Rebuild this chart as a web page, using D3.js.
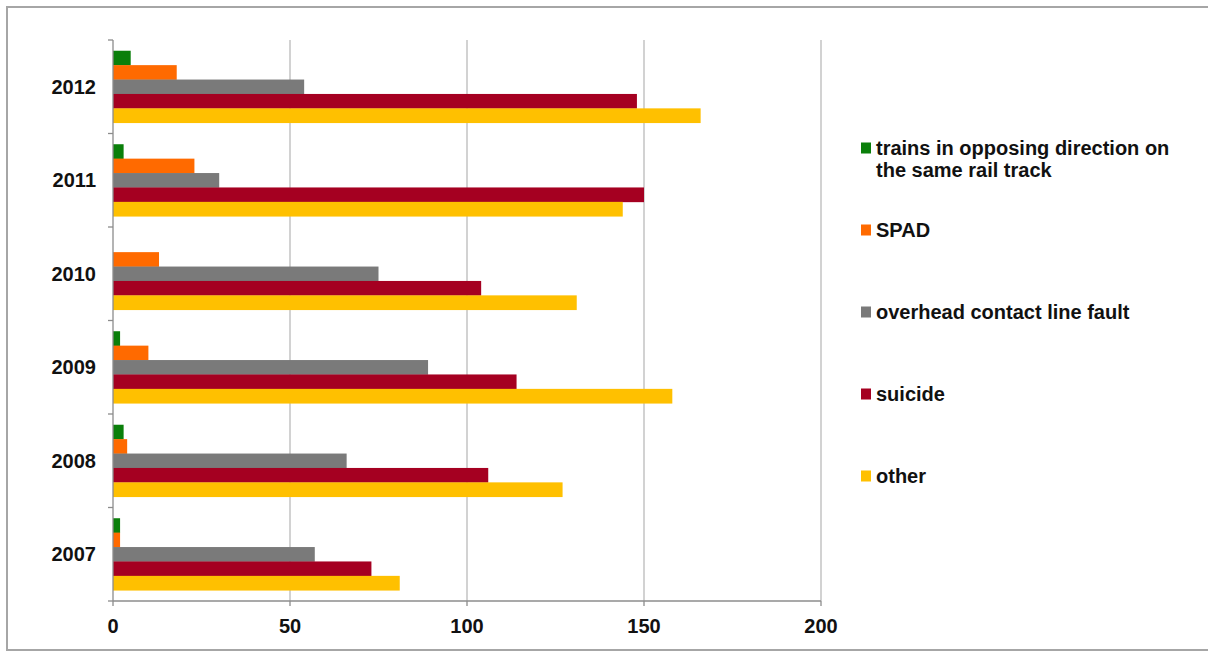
<!DOCTYPE html>
<html>
<head>
<meta charset="utf-8">
<script src="https://cdn.jsdelivr.net/npm/d3@7"></script>
<style>
  html, body { margin: 0; padding: 0; background: #fff; }
  svg { display: block; font-family: "Liberation Sans", Arial, sans-serif; }
</style>
</head>
<body>
<svg id="chart" width="1208" height="653"></svg>
<script>
// ---- data ----
const years = ["2012", "2011", "2010", "2009", "2008", "2007"];
const seriesNames = ["trains in opposing direction on the same rail track", "SPAD", "overhead contact line fault", "suicide", "other"];
const legendLines = [["trains in opposing direction on", "the same rail track"], ["SPAD"], ["overhead contact line fault"], ["suicide"], ["other"]];
const trains   = [5, 3, 0, 2, 3, 2];
const spad     = [18, 23, 13, 10, 4, 2];
const overhead = [54, 30, 75, 89, 66, 57];
const suicide  = [148, 150, 104, 114, 106, 73];
const other    = [166, 144, 131, 158, 127, 81];
const xTicks = [0, 50, 100, 150, 200];
const colors = ["#0a7f0a", "#ff6a00", "#7a7a7a", "#a50021", "#ffc000"];

const seriesValues = [trains, spad, overhead, suicide, other];

const svg = d3.select("#chart");

// frame
svg.append("rect")
  .attr("x", 7).attr("y", 7).attr("width", 1230).attr("height", 643)
  .attr("fill", "#fff").attr("stroke", "#a6a6a6").attr("stroke-width", 2);

const x = d3.scaleLinear().domain([0, 200]).range([113, 821]);
const y0 = d3.scaleBand().domain(years).range([40, 601]).padding(0);
const y1 = d3.scaleBand().domain(d3.range(seriesNames.length)).range([0, y0.bandwidth()])
  .paddingInner(0).paddingOuter(0.745);

// gridlines
svg.append("g").selectAll("line")
  .data(xTicks.filter(d => d > 0))
  .join("line")
  .attr("x1", d => x(d)).attr("x2", d => x(d))
  .attr("y1", 40).attr("y2", 601)
  .attr("stroke", "#b4b4b4").attr("stroke-width", 1.2);

// bars
const groups = svg.append("g").selectAll("g")
  .data(years)
  .join("g")
  .attr("transform", d => `translate(0,${y0(d)})`);

groups.selectAll("rect")
  .data((yr, i) => seriesValues.map((vals, s) => ({ s, v: vals[i] })))
  .join("rect")
  .attr("x", x(0))
  .attr("y", d => y1(d.s))
  .attr("width", d => x(d.v) - x(0))
  .attr("height", y1.bandwidth() + 0.3)
  .attr("fill", d => colors[d.s]);

// y axis
const yAxis = svg.append("g").attr("transform", `translate(${x(0)},0)`);
yAxis.append("line").attr("x1", 0).attr("x2", 0).attr("y1", 40).attr("y2", 601)
  .attr("stroke", "#8c8c8c").attr("stroke-width", 1.3);
const bounds = years.map(d => y0(d)).concat([y0(years[years.length - 1]) + y0.bandwidth()]);
yAxis.selectAll("line.tk").data(bounds).join("line").attr("class", "tk")
  .attr("x1", -5).attr("x2", 0).attr("y1", d => d).attr("y2", d => d)
  .attr("stroke", "#8c8c8c").attr("stroke-width", 1.3);
yAxis.selectAll("text").data(years).join("text")
  .attr("x", -17).attr("y", d => y0(d) + y0.bandwidth() / 2 + 7)
  .attr("text-anchor", "end")
  .attr("font-size", 20).attr("font-weight", "bold").attr("fill", "#111")
  .text(d => d);

// x axis
const xAxis = svg.append("g").attr("transform", "translate(0,601)");
xAxis.append("line").attr("x1", x(0)).attr("x2", x(200)).attr("y1", 0).attr("y2", 0)
  .attr("stroke", "#8c8c8c").attr("stroke-width", 1.3);
xAxis.selectAll("line.tk").data(xTicks).join("line").attr("class", "tk")
  .attr("x1", d => x(d)).attr("x2", d => x(d)).attr("y1", 0).attr("y2", 5)
  .attr("stroke", "#8c8c8c").attr("stroke-width", 1.3);
xAxis.selectAll("text").data(xTicks).join("text")
  .attr("x", d => x(d)).attr("y", 32)
  .attr("text-anchor", "middle")
  .attr("font-size", 20).attr("font-weight", "bold").attr("fill", "#111")
  .text(d => d);

// legend
const legendY = d3.scaleLinear().domain([0, 4]).range([148, 476]);
const leg = svg.append("g").selectAll("g")
  .data(seriesNames)
  .join("g")
  .attr("transform", (d, i) => `translate(861,${legendY(i)})`);
leg.append("rect")
  .attr("x", 0).attr("y", -5.5).attr("width", 10).attr("height", 11)
  .attr("fill", (d, i) => colors[i]);
leg.append("text")
  .attr("x", 15).attr("y", 7)
  .attr("font-size", 20).attr("font-weight", "bold").attr("fill", "#111")
  .selectAll("tspan")
  .data((d, i) => legendLines[i])
  .join("tspan")
  .attr("x", 15)
  .attr("dy", (d, j) => j === 0 ? 0 : 22)
  .text(d => d);
</script>
</body>
</html>
